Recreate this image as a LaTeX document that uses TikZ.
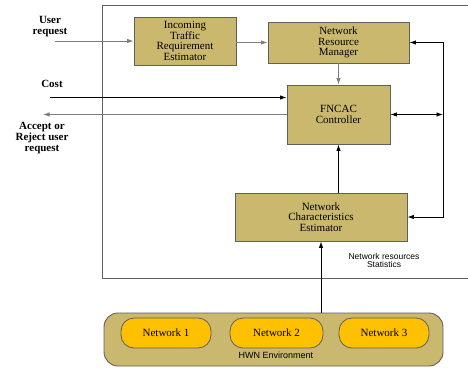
\documentclass[tikz,border=0pt]{standalone}
\usepackage{fontspec}
\setmainfont{Liberation Serif}
\setsansfont{Liberation Sans}
\usepackage{tikz}
\usetikzlibrary{arrows.meta, positioning}
\definecolor{boxtan}{RGB}{201,184,110}
\definecolor{netyellow}{RGB}{255,192,0}
\definecolor{linegray}{RGB}{125,125,125}
\definecolor{edgegray}{RGB}{95,95,95}

\begin{document}
\begin{tikzpicture}[
    x=1pt, y=-1pt,
    box/.style={rectangle, draw=edgegray, line width=0.9pt, fill=boxtan, align=center, inner sep=0pt,
                font=\fontsize{11}{10.7}\selectfont},
    net/.style={rectangle, rounded corners=13pt, draw=edgegray, line width=0.8pt, fill=netyellow,
                minimum width=90pt, minimum height=30pt, inner sep=0pt, font=\fontsize{11}{11}\selectfont},
    env/.style={rectangle, rounded corners=14pt, draw=edgegray, line width=0.9pt, fill=boxtan, inner sep=0pt},
    lbl/.style={align=center, font=\fontsize{11}{11}\selectfont\bfseries},
    small/.style={align=center, font=\sffamily\fontsize{8.5}{7.5}\selectfont},
    arrow/.style={-{Latex[length=6.5pt,width=4.5pt]}, line width=0.9pt},
    grayarrow/.style={arrow, draw=linegray, color=linegray}
]
    \useasboundingbox (0,0) rectangle (468,367);

    % System frame
    \draw[edgegray, line width=1pt] (468,5) -- (102,5) -- (102,278) -- (468,278);

    % Nodes
    \node[box, minimum width=102pt, minimum height=48pt] (itre) at (185,41) {Incoming\\Traffic\\Requirement\\Estimator};
    \node[box, minimum width=141pt, minimum height=41pt] (nrm) at (338.5,42.5) {Network\\Resource\\Manager};
    \node[box, minimum width=103pt, minimum height=59pt] (fncac) at (338.5,114.5) {FNCAC\\Controller};
    \node[box, minimum width=172pt, minimum height=48pt] (nce) at (321,217) {Network\\Characteristics\\Estimator};

    % HWN environment
    \node[env, minimum width=339pt, minimum height=53pt] (hwn) at (273.5,339.5) {};
    \node[net] (net1) at (166,333) {Network 1};
    \node[net, minimum width=93pt] (net2) at (276.5,333) {Network 2};
    \node[net] (net3) at (384,333) {Network 3};
    \node[font=\sffamily\fontsize{9}{9}\selectfont] (hwnlbl) at (276,355.5) {HWN Environment};

    % Outside labels
    \node[lbl] (ureqlbl) at (50,27) {User\\request};
    \node[lbl] (costlbl) at (52,84) {Cost};
    \node[lbl] (acclbl) at (42,138.5) {Accept or\\Reject user\\request};
    \node[small] (statlbl) at (384,260.5) {Network resources\\Statistics};

    % Free ends
    \coordinate (ureq) at (55,41);
    \coordinate (cost) at (50,97.5);
    \coordinate (acc) at (43,114.5);
    \coordinate (fb) at (443,0);

    % Arrows
    \draw[grayarrow] (ureq) -- (itre.west);
    \draw[grayarrow] (itre.east |- nrm.west) -- (nrm.west);
    \draw[grayarrow] (nrm.south) -- (fncac.north);
    \draw[arrow] (cost) -- (fncac.west |- cost);
    \draw[grayarrow] (fncac.west) -- (acc);
    \draw[arrow] (nce.north -| fncac.south) -- (fncac.south);
    \draw[arrow] (hwn.north -| nce.south) -- (nce.south);

    % Feedback loop
    \draw[arrow] (nce.east -| fb) -- (nrm.east -| fb) -- (nrm.east);
    \draw[arrow] (nrm.east -| fb) |- (nce.east);
    \draw[arrow, {Latex[length=6.5pt,width=4.5pt]}-{Latex[length=6.5pt,width=4.5pt]}] (fncac.east) -- (fncac.east -| fb);
\end{tikzpicture}
\end{document}
